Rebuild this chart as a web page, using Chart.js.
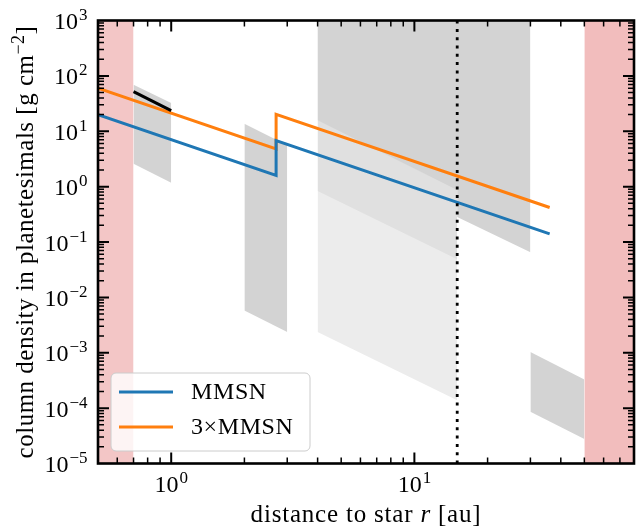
<!DOCTYPE html>
<html>
<head>
<meta charset="utf-8">
<script src="https://cdn.jsdelivr.net/npm/chart.js@4/dist/chart.umd.min.js"></script>
<style>
  html, body { margin: 0; padding: 0; background: #fff; }
  canvas { display: block; }
</style>
</head>
<body>
<canvas id="planetesimalChart" width="636" height="526"></canvas>
<script>
// r in au, column density in g cm^-2

// MMSN and 3xMMSN, jump at 2.7 au
const rMMSN = [0.5, 2.7, 2.7, 36];
const sigmaMMSN = [20, 1.6, 6.8, 0.14];
const sigma3MMSN = [60, 4.8, 20.3, 0.42];

// short black segment
const rSegment = [0.7, 1.0];
const sigmaSegment = [52, 23.6];

// dotted vertical marker
const rMarker = [15, 15];
const sigmaMarker = [1e-5, 1e3];

// grey bands (upper / lower edge)
const rBand1 = [0.7, 1.0];
const band1Upper = [69, 32.4];
const band1Lower = [2.59, 1.18];

const rBand2 = [2, 3];
const band2Upper = [13.7, 5.6];
const band2Lower = [0.0058, 0.00237];

const rBand3 = [30, 50];
const band3Upper = [1.03e-3, 3.3e-4];
const band3Lower = [8.6e-5, 2.77e-5];

// 4-30 au block, three shades, each one filled up to the top
const rOuterDark = [4, 15, 15, 30];
const outerDarkLower = [15.8, 0.87, 0.283, 0.065];
const rOuterMid = [4, 15];
const outerMidLower = [0.83, 0.049];
const rOuterLight = [4, 15];
const outerLightLower = [0.00237, 1.39e-4];

// red zones
const rZoneInner = [0.5, 0.7];
const rZoneOuter = [50, 80];
const zoneTop = [1e3, 1e3];

// axes
const xRange = [0.5, 80];
const yRange = [1e-5, 1e3];
const xMajorTicks = [1, 10];
const yMajorTicks = [1e-5, 1e-4, 1e-3, 1e-2, 1e-1, 1, 10, 100, 1000];
const minorSteps = [2, 3, 4, 5, 6, 7, 8, 9];
const minorDecades = [1e-6, 1e-5, 1e-4, 1e-3, 1e-2, 1e-1, 1, 10, 100];

const FONT = "'Liberation Serif', 'Times New Roman', serif";

const pts = (xs, ys) => xs.map((x, i) => ({ x: x, y: ys[i] }));

function line(label, data, color, width, order) {
  return {
    label: label, data: data, borderColor: color, borderWidth: width,
    pointRadius: 0, fill: false, tension: 0, order: order
  };
}

function area(data, color, fill, order) {
  return {
    label: '', data: data, backgroundColor: color, borderColor: 'rgba(0,0,0,0)',
    borderWidth: 0, pointRadius: 0, fill: fill, tension: 0, order: order
  };
}

const mmsn = line('MMSN', pts(rMMSN, sigmaMMSN), '#1f77b4', 3, 2);
mmsn.inLegend = true;
const mmsn3 = line('3×MMSN', pts(rMMSN, sigma3MMSN), '#ff7f0e', 3, 2);
mmsn3.inLegend = true;
const marker = line('', pts(rMarker, sigmaMarker), '#000', 2.8, 0);
marker.borderDash = [3, 5.3];
marker.borderCapStyle = 'butt';

const datasets = [
  mmsn,
  mmsn3,
  line('', pts(rSegment, sigmaSegment), '#000', 3, 1),
  marker,
  area(pts(rZoneInner, zoneTop), '#f3c6c6', 'start', 5),
  area(pts(rZoneOuter, zoneTop), '#f2bdbd', 'start', 5),
  area(pts(rBand1, band1Upper), '#d3d3d3', '+1', 5),
  area(pts(rBand1, band1Lower), 'rgba(0,0,0,0)', false, 5),
  area(pts(rBand2, band2Upper), '#d3d3d3', '+1', 5),
  area(pts(rBand2, band2Lower), 'rgba(0,0,0,0)', false, 5),
  area(pts(rBand3, band3Upper), '#d3d3d3', '+1', 5),
  area(pts(rBand3, band3Lower), 'rgba(0,0,0,0)', false, 5),
  area(pts(rOuterDark, outerDarkLower), '#d3d3d3', 'end', 6),
  area(pts(rOuterMid, outerMidLower), '#e0e0e0', 'end', 7),
  area(pts(rOuterLight, outerLightLower), '#ececec', 'end', 8)
];

// 10^exp with raised exponent
function drawPower(ctx, exp, px, py, align) {
  const base = '10';
  const sup = exp < 0 ? '\u2212' + (-exp) : String(exp);
  ctx.font = '24px ' + FONT;
  const wb = ctx.measureText(base).width;
  ctx.font = '17px ' + FONT;
  const ws = ctx.measureText(sup).width;
  const total = wb + 1 + ws;
  const x0 = align === 'right' ? px - total : px - total / 2;
  ctx.textAlign = 'left';
  ctx.textBaseline = 'alphabetic';
  ctx.font = '24px ' + FONT;
  ctx.fillText(base, x0, py);
  ctx.font = '17px ' + FONT;
  ctx.fillText(sup, x0 + wb + 1, py - 9);
}

// draws [text, font, raise] pieces one after another, centred on cx
function drawPieces(ctx, pieces, cx, baseline) {
  let total = 0;
  pieces.forEach(p => { ctx.font = p[1]; total += ctx.measureText(p[0]).width; });
  let x = cx - total / 2;
  ctx.textAlign = 'left';
  ctx.textBaseline = 'alphabetic';
  pieces.forEach(p => {
    ctx.font = p[1];
    ctx.fillText(p[0], x, baseline - (p[2] || 0));
    x += ctx.measureText(p[0]).width;
  });
}

const axisDecor = {
  id: 'axisDecor',
  afterDraw(chart) {
    const ctx = chart.ctx;
    const a = chart.chartArea;
    const xs = chart.scales.x, ys = chart.scales.y;
    ctx.save();
    ctx.fillStyle = '#000';
    ctx.letterSpacing = '0.6px';

    // legend
    const lx = a.left + 13, ly = a.bottom - 90.5, lw = 199, lh = 78;
    ctx.beginPath();
    ctx.roundRect(lx, ly, lw, lh, 5);
    ctx.fillStyle = 'rgba(255,255,255,0.8)';
    ctx.fill();
    ctx.strokeStyle = '#cccccc';
    ctx.lineWidth = 1;
    ctx.stroke();
    chart.data.datasets.filter(d => d.inLegend).forEach((d, i) => {
      const yy = ly + 19 + i * 35;
      ctx.beginPath();
      ctx.moveTo(lx + 8, yy);
      ctx.lineTo(lx + 62, yy);
      ctx.strokeStyle = d.borderColor;
      ctx.lineWidth = 3;
      ctx.stroke();
      ctx.fillStyle = '#000';
      ctx.font = '24px ' + FONT;
      ctx.textAlign = 'left';
      ctx.textBaseline = 'middle';
      ctx.fillText(d.label, lx + 80, yy + 1);
    });

    // inward ticks on all four sides
    ctx.strokeStyle = '#000';
    const tickX = (v, len, w) => {
      const p = xs.getPixelForValue(v);
      if (p < a.left + 1 || p > a.right - 1) return;
      ctx.lineWidth = w;
      ctx.beginPath();
      ctx.moveTo(p, a.bottom); ctx.lineTo(p, a.bottom - len);
      ctx.moveTo(p, a.top); ctx.lineTo(p, a.top + len);
      ctx.stroke();
    };
    const tickY = (v, len, w) => {
      const p = ys.getPixelForValue(v);
      if (p < a.top + 1 || p > a.bottom - 1) return;
      ctx.lineWidth = w;
      ctx.beginPath();
      ctx.moveTo(a.left, p); ctx.lineTo(a.left + len, p);
      ctx.moveTo(a.right, p); ctx.lineTo(a.right - len, p);
      ctx.stroke();
    };
    minorDecades.forEach(d => minorSteps.forEach(s => {
      tickX(d * s, 6, 1.5);
      tickY(d * s, 6, 1.5);
    }));
    xMajorTicks.forEach(v => tickX(v, 11, 2));
    yMajorTicks.forEach(v => tickY(v, 11, 2));

    // spines
    ctx.lineWidth = 2.6;
    ctx.strokeRect(a.left, a.top, a.right - a.left, a.bottom - a.top);

    // tick labels
    ctx.fillStyle = '#000';
    ctx.letterSpacing = '0px';
    yMajorTicks.forEach(v => drawPower(ctx, Math.round(Math.log10(v)), a.left - 10.5, ys.getPixelForValue(v) + 8.5, 'right'));
    xMajorTicks.forEach(v => drawPower(ctx, Math.round(Math.log10(v)), xs.getPixelForValue(v), a.bottom + 28.5, 'center'));

    // axis titles
    ctx.letterSpacing = '0.8px';
    const f = '25px ' + FONT;
    drawPieces(ctx, [['distance to star ', f], ['r', 'italic ' + f], [' [au]', f]],
      (a.left + a.right) / 2, a.bottom + 58.5);
    ctx.letterSpacing = '0.5px';
    ctx.translate(33, (a.top + a.bottom) / 2);
    ctx.rotate(-Math.PI / 2);
    drawPieces(ctx, [['column density in planetesimals [g cm', f], ['\u22122', '18px ' + FONT, 9], [']', f]], 0, 0);
    ctx.restore();
  }
};

new Chart(document.getElementById('planetesimalChart').getContext('2d'), {
  type: 'line',
  data: { datasets: datasets },
  options: {
    responsive: false,
    animation: false,
    devicePixelRatio: 1,
    layout: { padding: { left: 98, top: 20.5, right: 2, bottom: 62.5 } },
    plugins: {
      legend: { display: false },
      tooltip: { enabled: false }
    },
    scales: {
      x: { type: 'logarithmic', min: xRange[0], max: xRange[1], display: false },
      y: { type: 'logarithmic', min: yRange[0], max: yRange[1], display: false }
    }
  },
  plugins: [axisDecor]
});
</script>
</body>
</html>
